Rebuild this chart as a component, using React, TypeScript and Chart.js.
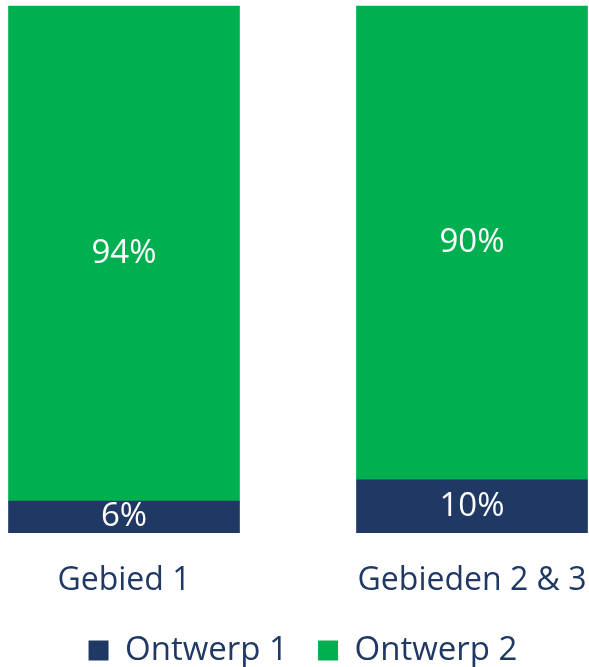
import React, { useEffect, useRef } from "react";
import { Chart, registerables } from "chart.js";

Chart.register(...registerables);

const categories = ["Gebied 1", "Gebieden 2 & 3"];
const seriesNames = ["Ontwerp 1", "Ontwerp 2"];
const ontwerp1 = [6, 10];
const ontwerp2 = [94, 90];

const NAVY = "#203864";
const GREEN = "#00B050";
const FONT = "'Open Sans', 'Noto Sans', sans-serif";

const valueLabels = {
  id: "valueLabels",
  afterDatasetsDraw(chart: any) {
    const ctx = chart.ctx;
    ctx.save();
    ctx.fillStyle = "#ffffff";
    ctx.font = `33px ${FONT}`;
    ctx.textAlign = "center";
    ctx.textBaseline = "middle";
    chart.data.datasets.forEach((ds: any, i: number) => {
      const meta = chart.getDatasetMeta(i);
      meta.data.forEach((el: any, j: number) => {
        const p = el.getProps(["x", "y", "base"], true);
        ctx.fillText(`${ds.data[j]}%`, p.x, (p.y + p.base) / 2);
      });
    });
    ctx.restore();
  },
};

export default function App() {
  const ref = useRef<HTMLCanvasElement>(null);
  useEffect(() => {
    if (!ref.current) return;
    const baseGen = (Chart as any).defaults.plugins.legend.labels.generateLabels;
    const chart = new Chart(ref.current, {
      type: "bar",
      data: {
        labels: categories,
        datasets: [
          { label: seriesNames[0], data: ontwerp1, backgroundColor: NAVY, barThickness: 231, clip: false as any },
          { label: seriesNames[1], data: ontwerp2, backgroundColor: GREEN, barThickness: 231, clip: false as any },
        ],
      },
      options: {
        responsive: false,
        animation: false,
        layout: { padding: { top: 6, left: 17, right: 0, bottom: -10 } },
        scales: {
          x: {
            stacked: true,
            offset: false,
            grid: { display: false },
            border: { display: false },
            ticks: { color: NAVY, font: { family: FONT, size: 32 }, padding: 21, maxRotation: 0, autoSkip: false },
            afterFit: (s: any) => { s.paddingLeft = 0; s.paddingRight = 0; },
          },
          y: {
            stacked: true,
            position: "left",
            min: 0,
            max: 100,
            grid: { display: false },
            border: { display: false },
            ticks: { display: false },
            afterFit: (s: any) => { s.width = 107; },
          },
          y2: {
            position: "right",
            min: 0,
            max: 100,
            grid: { display: false },
            border: { display: false },
            ticks: { display: false },
            afterFit: (s: any) => { s.width = 117; },
          },
        },
        plugins: {
          tooltip: { enabled: false },
          legend: {
            position: "bottom",
            labels: {
              color: NAVY,
              font: { family: FONT, size: 33 },
              boxWidth: 20,
              boxHeight: 20,
              padding: 13,
              generateLabels: (c: any) =>
                baseGen(c).map((item: any, i: number) =>
                  i === 0 ? { ...item, text: item.text + "  " } : item
                ),
            },
          },
        },
      },
      plugins: [valueLabels],
    });
    return () => chart.destroy();
  }, []);
  return (
    <div style={{ position: "fixed", left: 0, top: 0, width: 589, height: 667, background: "#fff" }}>
      <canvas ref={ref} width={589} height={667} />
    </div>
  );
}
